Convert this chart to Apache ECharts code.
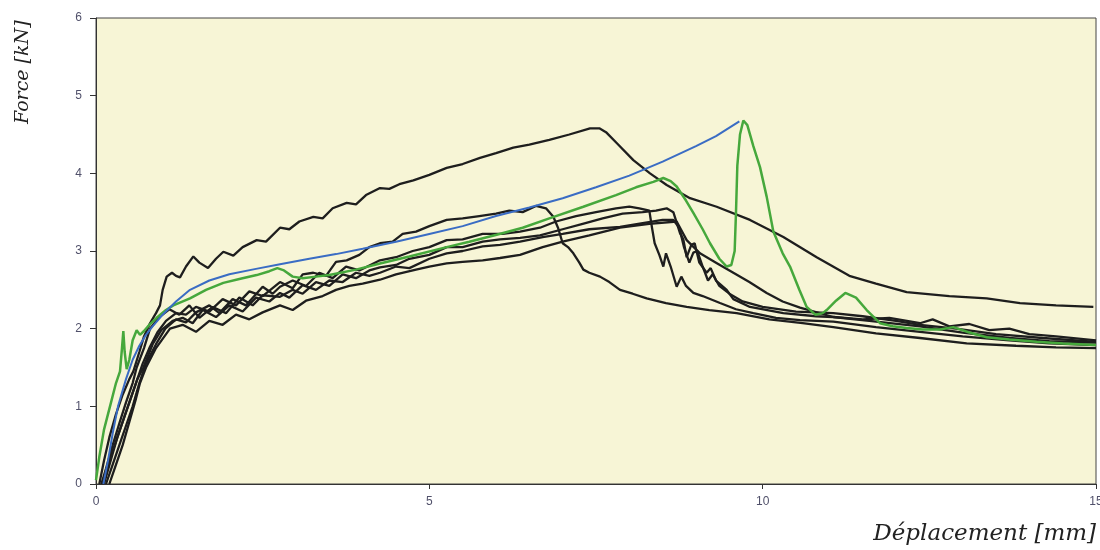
<!DOCTYPE html>
<html>
<head>
<meta charset="utf-8">
<script src="https://cdn.jsdelivr.net/npm/echarts@6/dist/echarts.min.js"></script>
<style>html,body{margin:0;padding:0;background:#fff;}#c{width:1100px;height:550px;}</style>
</head>
<body>
<div id="c"></div>
<script>
// Axis ticks
const xTicks = [0, 5, 10, 15];
const yTicks = [0, 1, 2, 3, 4, 5, 6];
const xTitle = 'Déplacement [mm]';
const yTitle = 'Force [kN]';

// Blue curve (smooth model)
const blue = [[0.11,0],[0.18,0.3],[0.25,0.65],[0.33,1.0],[0.45,1.35],[0.55,1.6],[0.65,1.78],[0.75,1.92],[0.84,2.02],[1.0,2.18],[1.2,2.35],[1.41,2.5],[1.7,2.62],[2.0,2.7],[2.4,2.77],[2.76,2.83],[3.2,2.9],[3.6,2.96],[4.0,3.03],[4.5,3.12],[5.0,3.22],[5.5,3.32],[6.0,3.45],[6.5,3.56],[7.0,3.68],[7.5,3.82],[8.0,3.97],[8.5,4.15],[9.0,4.35],[9.3,4.48],[9.65,4.67]];

// Green curve
const green = [[0,0.05],[0.05,0.35],[0.12,0.7],[0.21,1.0],[0.3,1.3],[0.36,1.45],[0.39,1.75],[0.41,1.97],[0.43,1.7],[0.46,1.48],[0.5,1.6],[0.55,1.85],[0.61,1.98],[0.66,1.92],[0.72,1.97],[0.8,2.05],[0.91,2.14],[1.05,2.24],[1.16,2.3],[1.41,2.39],[1.65,2.5],[1.91,2.59],[2.15,2.64],[2.41,2.69],[2.6,2.74],[2.72,2.78],[2.82,2.75],[2.95,2.67],[3.1,2.65],[3.3,2.67],[3.5,2.69],[3.9,2.76],[4.26,2.84],[4.7,2.93],[5.26,3.05],[5.6,3.12],[6.01,3.21],[6.4,3.3],[6.8,3.42],[7.31,3.57],[7.8,3.72],[8.1,3.82],[8.36,3.89],[8.51,3.94],[8.62,3.9],[8.71,3.83],[8.85,3.65],[8.96,3.49],[9.1,3.28],[9.21,3.1],[9.35,2.9],[9.46,2.8],[9.53,2.82],[9.58,3.0],[9.6,3.5],[9.62,4.1],[9.66,4.5],[9.71,4.68],[9.77,4.62],[9.86,4.35],[9.96,4.08],[10.06,3.7],[10.16,3.25],[10.3,2.97],[10.41,2.8],[10.55,2.5],[10.66,2.28],[10.79,2.18],[10.9,2.2],[10.96,2.24],[11.1,2.36],[11.24,2.46],[11.4,2.4],[11.56,2.24],[11.76,2.07],[11.95,2.03],[12.16,2.01],[12.4,1.99],[12.66,1.99],[12.86,2.02],[13.1,1.95],[13.36,1.89],[13.7,1.86],[14.11,1.83],[14.5,1.81],[15,1.79]];

// Black test curves
const black1 = [[0.05,0],[0.12,0.3],[0.2,0.6],[0.3,0.9],[0.4,1.15],[0.5,1.35],[0.56,1.45],[0.65,1.7],[0.72,1.9],[0.81,2.07],[0.9,2.2],[0.96,2.3],[1.0,2.5],[1.06,2.67],[1.14,2.72],[1.2,2.68],[1.26,2.66],[1.35,2.8],[1.46,2.93],[1.55,2.85],[1.68,2.78],[1.8,2.9],[1.91,2.99],[2.06,2.94],[2.2,3.05],[2.41,3.14],[2.55,3.12],[2.76,3.3],[2.9,3.28],[3.05,3.38],[3.26,3.44],[3.4,3.42],[3.55,3.55],[3.76,3.62],[3.9,3.6],[4.05,3.72],[4.26,3.81],[4.4,3.8],[4.55,3.86],[4.76,3.91],[5.0,3.98],[5.26,4.07],[5.5,4.12],[5.76,4.2],[6.0,4.26],[6.26,4.33],[6.5,4.37],[6.8,4.43],[7.1,4.5],[7.41,4.58],[7.55,4.58],[7.65,4.53],[7.81,4.39],[8.06,4.17],[8.31,4.0],[8.56,3.85],[8.91,3.68],[9.31,3.57],[9.81,3.4],[10.31,3.18],[10.81,2.92],[11.3,2.68],[11.7,2.58],[12.16,2.47],[12.8,2.42],[13.36,2.39],[13.86,2.33],[14.4,2.3],[14.96,2.28]];
const black2 = [[0.1,0],[0.2,0.3],[0.3,0.55],[0.4,0.8],[0.5,1.05],[0.6,1.3],[0.7,1.55],[0.8,1.75],[0.92,1.95],[1.05,2.1],[1.2,2.2],[1.35,2.18],[1.5,2.28],[1.7,2.22],[1.9,2.38],[2.1,2.3],[2.3,2.48],[2.5,2.42],[2.76,2.6],[2.95,2.52],[3.1,2.7],[3.26,2.72],[3.45,2.68],[3.6,2.86],[3.76,2.88],[3.95,2.95],[4.1,3.05],[4.26,3.1],[4.45,3.12],[4.6,3.22],[4.8,3.25],[5.0,3.32],[5.26,3.4],[5.5,3.42],[5.75,3.45],[6.0,3.48],[6.2,3.52],[6.4,3.5],[6.6,3.58],[6.75,3.55],[6.86,3.44],[6.93,3.3],[7.0,3.1],[7.08,3.05],[7.16,2.97],[7.25,2.85],[7.31,2.76],[7.4,2.72],[7.56,2.67],[7.7,2.6],[7.86,2.5],[8.05,2.45],[8.26,2.39],[8.55,2.33],[8.86,2.28],[9.2,2.24],[9.61,2.2],[10.1,2.12],[10.6,2.07],[11.06,2.02],[11.7,1.94],[12.36,1.88],[13.06,1.81],[13.8,1.78],[14.4,1.76],[15,1.75]];
const black3 = [[0.15,0],[0.25,0.25],[0.35,0.5],[0.45,0.75],[0.55,1.0],[0.65,1.3],[0.75,1.55],[0.9,1.8],[1.04,2.0],[1.2,2.12],[1.35,2.08],[1.5,2.21],[1.7,2.3],[1.85,2.2],[2.05,2.38],[2.25,2.3],[2.5,2.54],[2.65,2.45],[2.76,2.54],[2.95,2.62],[3.15,2.55],[3.35,2.72],[3.55,2.65],[3.75,2.8],[3.95,2.75],[4.26,2.88],[4.5,2.92],[4.75,3.0],[5.0,3.05],[5.26,3.14],[5.5,3.15],[5.8,3.22],[6.1,3.22],[6.36,3.25],[6.66,3.3],[6.9,3.38],[7.2,3.45],[7.5,3.5],[7.8,3.55],[8.0,3.57],[8.15,3.55],[8.3,3.52],[8.34,3.3],[8.38,3.1],[8.45,2.95],[8.51,2.8],[8.55,2.97],[8.62,2.8],[8.71,2.54],[8.78,2.67],[8.85,2.55],[8.96,2.46],[9.1,2.42],[9.36,2.33],[9.6,2.25],[9.86,2.2],[10.2,2.14],[10.56,2.11],[11.06,2.09],[11.7,2.02],[12.36,1.96],[13.0,1.9],[13.7,1.85],[14.3,1.81],[15,1.79]];
const black4 = [[0.08,0],[0.15,0.2],[0.25,0.5],[0.35,0.78],[0.45,1.05],[0.55,1.3],[0.61,1.5],[0.72,1.75],[0.81,2.0],[0.95,2.15],[1.1,2.25],[1.25,2.18],[1.4,2.3],[1.55,2.14],[1.75,2.28],[1.95,2.2],[2.15,2.4],[2.35,2.3],[2.5,2.43],[2.76,2.41],[2.95,2.5],[3.1,2.45],[3.3,2.6],[3.5,2.55],[3.7,2.7],[3.9,2.65],[4.1,2.75],[4.26,2.79],[4.5,2.82],[4.7,2.9],[5.0,2.95],[5.26,3.05],[5.5,3.05],[5.8,3.12],[6.06,3.15],[6.36,3.17],[6.66,3.2],[7.0,3.28],[7.3,3.35],[7.6,3.42],[7.9,3.48],[8.2,3.5],[8.4,3.52],[8.56,3.55],[8.66,3.5],[8.76,3.23],[8.81,3.15],[8.86,2.92],[8.93,3.08],[8.98,3.1],[9.05,2.85],[9.16,2.72],[9.22,2.78],[9.3,2.62],[9.46,2.5],[9.56,2.38],[9.81,2.28],[10.31,2.2],[10.8,2.16],[11.06,2.15],[11.5,2.12],[11.9,2.14],[12.36,2.07],[12.55,2.12],[12.8,2.03],[13.1,2.06],[13.4,1.98],[13.7,2.0],[14.0,1.93],[14.4,1.9],[15,1.85]];
const black5 = [[0.2,0],[0.3,0.25],[0.4,0.5],[0.5,0.8],[0.6,1.1],[0.66,1.3],[0.75,1.5],[0.9,1.75],[1.11,2.0],[1.3,2.05],[1.5,1.96],[1.7,2.1],[1.9,2.05],[2.1,2.18],[2.3,2.12],[2.5,2.21],[2.76,2.3],[2.95,2.24],[3.15,2.36],[3.4,2.42],[3.6,2.5],[3.8,2.55],[4.0,2.58],[4.26,2.63],[4.5,2.7],[4.8,2.76],[5.0,2.8],[5.26,2.84],[5.5,2.86],[5.8,2.88],[6.06,2.91],[6.36,2.95],[6.7,3.05],[7.0,3.12],[7.4,3.2],[7.86,3.3],[8.3,3.35],[8.71,3.38],[8.86,3.14],[9.06,2.97],[9.3,2.85],[9.56,2.72],[9.8,2.6],[10.06,2.46],[10.3,2.35],[10.56,2.27],[11.06,2.15],[11.6,2.1],[12.36,2.03],[13.0,1.95],[13.7,1.88],[14.3,1.84],[15,1.82]];
const black6 = [[0.12,0],[0.22,0.3],[0.32,0.6],[0.42,0.85],[0.52,1.1],[0.62,1.35],[0.71,1.5],[0.85,1.8],[0.98,1.98],[1.15,2.1],[1.3,2.14],[1.45,2.07],[1.6,2.24],[1.8,2.15],[2.0,2.3],[2.2,2.22],[2.4,2.4],[2.6,2.35],[2.76,2.46],[2.9,2.4],[3.1,2.56],[3.3,2.5],[3.5,2.62],[3.7,2.6],[3.9,2.72],[4.1,2.68],[4.26,2.72],[4.5,2.8],[4.7,2.78],[5.0,2.9],[5.26,2.97],[5.5,3.0],[5.8,3.06],[6.06,3.08],[6.36,3.12],[6.7,3.18],[7.0,3.22],[7.4,3.28],[7.86,3.31],[8.2,3.36],[8.5,3.4],[8.66,3.4],[8.75,3.3],[8.82,3.05],[8.9,2.85],[8.96,2.98],[9.02,3.0],[9.1,2.8],[9.18,2.62],[9.25,2.7],[9.35,2.55],[9.5,2.45],[9.7,2.35],[10.0,2.28],[10.5,2.22],[11.06,2.2],[11.5,2.16],[12.0,2.1],[12.36,2.05],[12.9,2.0],[13.5,1.93],[14.2,1.88],[15,1.83]];

const blacks = [black1, black2, black3, black4, black5, black6];

const chart = echarts.init(document.getElementById('c'), null, {renderer: 'canvas'});
const lineSeries = (data, color, width, z) => ({
  type: 'line', data: data, showSymbol: false, symbol: 'none', smooth: false,
  lineStyle: {color: color, width: width}, z: z, animation: false
});
const series = blacks.map(b => lineSeries(b, '#1e1e1e', 2.3, 2));
series.push(lineSeries(green, '#46a83c', 2.5, 3));
series.push(lineSeries(blue, '#3a6cc4', 2, 4));

chart.setOption({
  animation: false,
  backgroundColor: '#ffffff',
  grid: {left: 96, right: 4, top: 18, bottom: 66, containLabel: false, outerBoundsMode: 'none',
         show: true, backgroundColor: '#f7f5d6', borderColor: '#444', borderWidth: 1},
  xAxis: {
    type: 'value', min: xTicks[0], max: xTicks[xTicks.length - 1], interval: 5,
    axisLine: {show: true, lineStyle: {color: '#333', width: 1}},
    axisTick: {show: true, inside: false, length: 5, lineStyle: {color: '#333'}},
    axisLabel: {color: '#50506a', fontSize: 12, margin: 12, fontFamily: 'Liberation Sans, Arial, sans-serif'},
    splitLine: {show: false}
  },
  yAxis: {
    type: 'value', min: yTicks[0], max: yTicks[yTicks.length - 1], interval: 1,
    axisLine: {show: true, lineStyle: {color: '#333', width: 1}},
    axisTick: {show: true, inside: false, length: 6, lineStyle: {color: '#333'}},
    axisLabel: {color: '#50506a', fontSize: 12, margin: 14, fontFamily: 'Liberation Sans, Arial, sans-serif'},
    splitLine: {show: false}
  },
  graphic: [
    {type: 'text', rotation: Math.PI / 2, style: {text: yTitle, font: 'italic 19px "DejaVu Serif", "Liberation Serif", serif', fill: '#222'},
     x: 14, y: 124},
    {type: 'text', right: 4, top: 523, style: {text: xTitle, font: 'italic 23px "DejaVu Serif", "Liberation Serif", serif', fill: '#222'}}
  ],
  series: series
});
</script>
</body>
</html>
